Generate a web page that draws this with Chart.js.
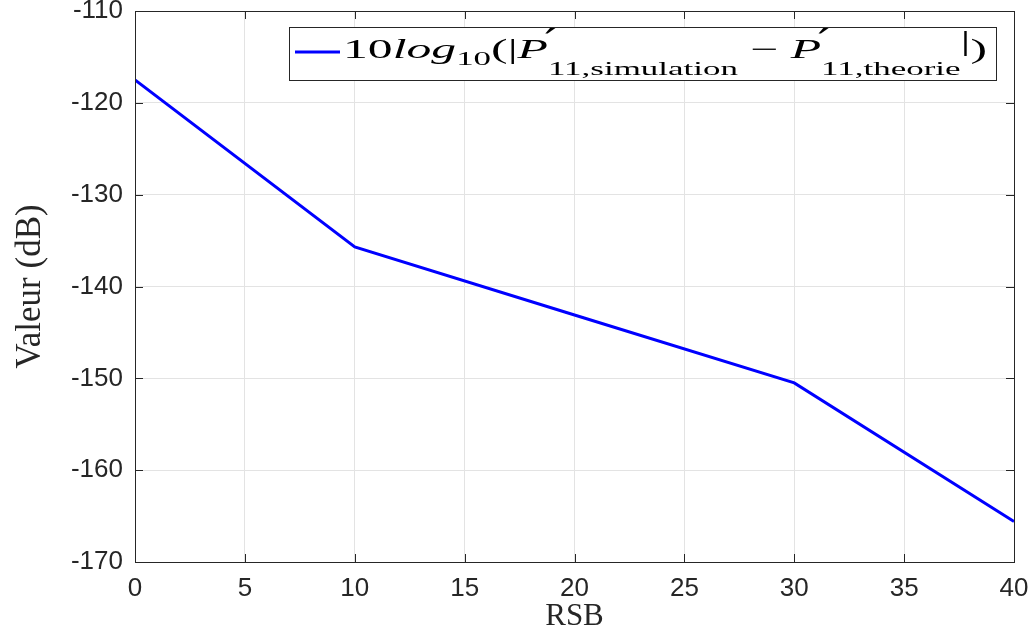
<!DOCTYPE html>
<html>
<head>
<meta charset="utf-8">
<script src="https://cdn.jsdelivr.net/npm/chart.js@4"></script>
<style>
  html, body { margin: 0; padding: 0; background: #fff; }
  #wrap { width: 1034px; height: 637px; }
</style>
</head>
<body>
<div id="wrap"><canvas id="myChart" width="1034" height="637"></canvas></div>
<script>
// Données
const rsb = [0, 10, 20, 30, 40];
const valeurs = [-117.5, -135.7, -143.1, -150.5, -165.6];
const xTicks = [0, 5, 10, 15, 20, 25, 30, 35, 40];
const yTicks = [-170, -160, -150, -140, -130, -120, -110];

const axisColor = '#262626';
const serif = '"Liberation Serif", "DejaVu Serif", serif';
const sans = '"Liberation Sans", Arial, sans-serif';

// Cadre + graduations vers l'intérieur (style MATLAB)
const boxPlugin = {
    id: 'boxPlugin',
    afterDatasetsDraw(chart) {
        const { ctx, chartArea: a, scales } = chart;
        ctx.save();
        ctx.strokeStyle = axisColor;
        ctx.lineWidth = 1;
        const len = 8;
        ctx.beginPath();
        scales.x.ticks.forEach(t => {
            const px = Math.round(scales.x.getPixelForValue(t.value)) + 0.5;
            ctx.moveTo(px, a.bottom); ctx.lineTo(px, a.bottom - len);
            ctx.moveTo(px, a.top); ctx.lineTo(px, a.top + len);
        });
        scales.y.ticks.forEach(t => {
            const py = Math.round(scales.y.getPixelForValue(t.value)) + 0.5;
            ctx.moveTo(a.left, py); ctx.lineTo(a.left + len, py);
            ctx.moveTo(a.right, py); ctx.lineTo(a.right - len, py);
        });
        ctx.stroke();
        ctx.strokeRect(Math.round(a.left) + 0.5, Math.round(a.top) + 0.5,
            Math.round(a.right - a.left), Math.round(a.bottom - a.top));
        ctx.restore();
    }
};

// Légende en notation mathématique
// [texte, style, taille, décalage vertical, 'prime' = sans avance]
const legendParts = [
    ['10', '', 27, 0],
    ['log', 'italic ', 27, 0],
    ['10', '', 19, 7],
    ['(|', '', 27, 0],
    ['P', 'italic ', 27, 0],
    ['\u2032', '', 30, -8, 'prime'],
    ['11,simulation', '', 19, 17],
    [' \u2212 ', '', 27, 0],
    ['P', 'italic ', 27, 0],
    ['\u2032', '', 30, -8, 'prime'],
    ['11,theorie', '', 19, 17],
    ['|', '', 27, -8],
    [')', '', 27, 0]
];

const legendPlugin = {
    id: 'mathLegend',
    afterDraw(chart) {
        const { ctx } = chart;
        const x0 = 289, y0 = 27, w = 707, h = 53;
        ctx.save();
        ctx.fillStyle = '#fff';
        ctx.fillRect(x0, y0, w, h);
        ctx.strokeStyle = axisColor;
        ctx.lineWidth = 1;
        ctx.strokeRect(x0 + 0.5, y0 + 0.5, w, h);
        ctx.strokeStyle = '#0000ff';
        ctx.lineWidth = 3;
        ctx.beginPath();
        ctx.moveTo(x0 + 6, y0 + 25); ctx.lineTo(x0 + 51, y0 + 25);
        ctx.stroke();

        const setFont = p => {
            ctx.font = p[1] + p[2] + 'px ' + (p[4] === 'prime' ? '"DejaVu Sans", sans-serif' : serif);
        };
        // largeur totale (le prime n'avance pas)
        let total = 0;
        legendParts.forEach(p => {
            setFont(p);
            if (p[4] !== 'prime') total += ctx.measureText(p[0]).width;
        });
        const startX = 343, endX = 987;
        const sx = (endX - startX) / total;
        const base = y0 + 31;
        ctx.translate(startX, 0);
        ctx.scale(sx, 1);
        ctx.fillStyle = '#000';
        ctx.textBaseline = 'alphabetic';
        let x = 0;
        legendParts.forEach(p => {
            setFont(p);
            if (p[4] === 'prime') {
                ctx.fillText(p[0], x - 2, base + p[3]);
                return;
            }
            ctx.fillText(p[0], x, base + p[3]);
            x += ctx.measureText(p[0]).width;
        });
        ctx.restore();
    }
};

const ctx = document.getElementById('myChart').getContext('2d');
new Chart(ctx, {
    type: 'line',
    data: {
        datasets: [{
            label: '10log10(|P\'11,simulation - P\'11,theorie|)',
            data: rsb.map((v, i) => ({ x: v, y: valeurs[i] })),
            borderColor: '#0000ff',
            borderWidth: 3,
            pointRadius: 0,
            tension: 0,
            fill: false
        }]
    },
    options: {
        responsive: false,
        animation: false,
        layout: { padding: { top: 11, right: 20, left: 0, bottom: 0 } },
        plugins: {
            legend: { display: false },
            tooltip: { enabled: false }
        },
        scales: {
            x: {
                type: 'linear',
                min: 0, max: 40,
                afterBuildTicks: s => { s.ticks = xTicks.map(v => ({ value: v })); },
                afterFit: s => { s.height = 75; s.paddingLeft = 0; s.paddingRight = 0; },
                grid: { color: '#e3e3e3', drawTicks: false },
                border: { color: axisColor },
                ticks: {
                    color: axisColor,
                    padding: 11,
                    maxRotation: 0,
                    font: { family: sans, size: 26 }
                },
                title: {
                    display: true,
                    text: 'RSB',
                    color: axisColor,
                    padding: { top: 0, bottom: 2 },
                    font: { family: serif, size: 31 }
                }
            },
            y: {
                min: -170, max: -110,
                afterBuildTicks: s => { s.ticks = yTicks.map(v => ({ value: v })); },
                afterFit: s => { s.width = 135; s.paddingTop = 0; s.paddingBottom = 0; },
                grid: { color: '#e3e3e3', drawTicks: false },
                border: { color: axisColor },
                ticks: {
                    color: axisColor,
                    padding: 12,
                    font: { family: sans, size: 26 }
                },
                title: {
                    display: true,
                    text: 'Valeur (dB)',
                    color: axisColor,
                    padding: { top: 10, bottom: 0 },
                    font: { family: serif, size: 35 }
                }
            }
        }
    },
    plugins: [boxPlugin, legendPlugin]
});
</script>
</body>
</html>
